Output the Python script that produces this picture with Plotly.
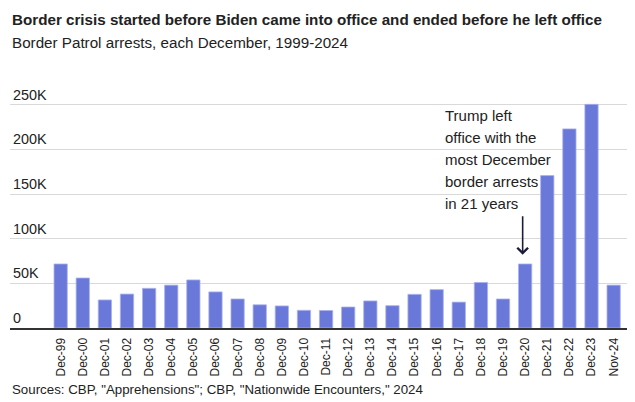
import plotly.graph_objects as go

categories = ["Dec-99", "Dec-00", "Dec-01", "Dec-02", "Dec-03", "Dec-04", "Dec-05",
              "Dec-06", "Dec-07", "Dec-08", "Dec-09", "Dec-10", "Dec-11", "Dec-12",
              "Dec-13", "Dec-14", "Dec-15", "Dec-16", "Dec-17", "Dec-18", "Dec-19",
              "Dec-20", "Dec-21", "Dec-22", "Dec-23", "Nov-24"]
arrests = [71700, 56000, 31400, 38000, 44400, 48000, 53800,
           40400, 32500, 26000, 24700, 19800, 19600, 23500,
           30300, 25000, 37700, 43000, 29000, 51000, 32500,
           71700, 170700, 223000, 250500, 48000]
y_tickvals = [0, 50000, 100000, 150000, 200000, 250000]
y_ticktext = ["0", "50K", "100K", "150K", "200K", "250K"]
note_lines = ["Trump left", "office with the", "most December", "border arrests", "in 21 years"]
note_y = [238100, 213200, 188600, 164000, 139300]

BAR = "#6a78d9"
TEXT = "#222222"
FONT = "Liberation Sans"

fig = go.Figure()
fig.add_trace(go.Bar(
    x=categories, y=arrests,
    marker=dict(color=BAR, line=dict(color="#a9b2ec", width=0.8)),
    width=0.6,
    hoverinfo="x+y",
))

annotations = [
    dict(text="<b>Border crisis started before Biden came into office and ended before he left office</b>",
         xref="paper", yref="paper", x=0, y=1, xshift=0, yshift=59,
         xanchor="left", yanchor="middle", showarrow=False,
         font=dict(family=FONT, size=15.2, color=TEXT)),
    dict(text="Border Patrol arrests, each December, 1999-2024",
         xref="paper", yref="paper", x=0, y=1, xshift=0, yshift=35.5,
         xanchor="left", yanchor="middle", showarrow=False,
         font=dict(family=FONT, size=15.2, color=TEXT)),
    dict(text="Sources: CBP, \"Apprehensions\"; CBP, \"Nationwide Encounters,\" 2024",
         xref="paper", yref="paper", x=0, y=0, xshift=0, yshift=-61,
         xanchor="left", yanchor="middle", showarrow=False,
         font=dict(family=FONT, size=13.3, color=TEXT)),
    dict(x="Dec-20", y=82000, xref="x", yref="y", xshift=-2.5,
         ax=0, ay=-40, text="", showarrow=True,
         arrowhead=4, arrowsize=1.3, arrowwidth=1.6, arrowcolor="#1c1c3a"),
]
for line, yy in zip(note_lines, note_y):
    annotations.append(dict(text=line, x="Dec-17", y=yy, xref="x", yref="y",
                            xshift=-16, xanchor="left", yanchor="middle", showarrow=False,
                            font=dict(family=FONT, size=15, color=TEXT)))

fig.update_layout(
    width=627, height=394,
    margin=dict(l=2, r=5, t=70, b=74, pad=0),
    paper_bgcolor="white", plot_bgcolor="white",
    showlegend=False,
    annotations=annotations,
    font=dict(family=FONT, color=TEXT),
    xaxis=dict(
        type="category", range=[-2.29, 25.74],
        tickangle=-90, tickfont=dict(family=FONT, size=12, color=TEXT),
        ticklabelstandoff=3,
        showline=True, linecolor="#333333", linewidth=2,
        showgrid=False, ticks="", fixedrange=True,
    ),
    yaxis=dict(
        range=[0, 280000],
        tickvals=y_tickvals, ticktext=y_ticktext,
        ticklabelposition="inside top",
        tickfont=dict(family=FONT, size=14.4, color=TEXT),
        showgrid=True, gridcolor="#d9d9d9", gridwidth=1,
        zeroline=False, showline=False, ticks="", fixedrange=True,
    ),
)

fig.write_html("out.html")
